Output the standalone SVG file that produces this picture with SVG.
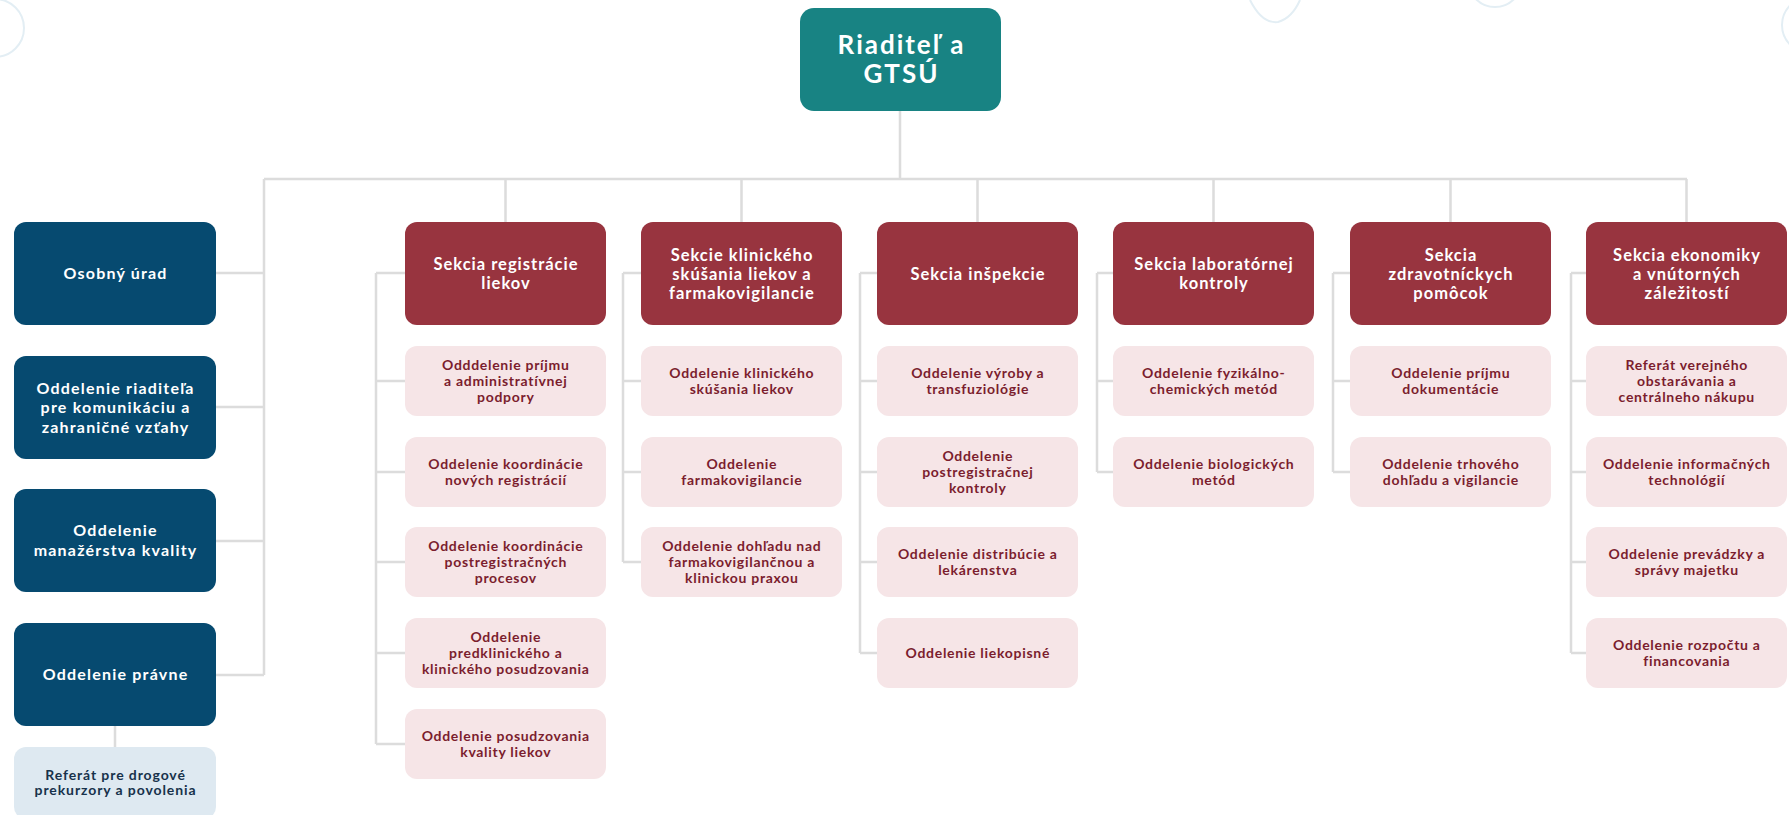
<svg xmlns="http://www.w3.org/2000/svg" width="1789" height="815" viewBox="0 0 1789 815">
<style>
text{font-family:Lato,"Noto Sans","Liberation Sans",sans-serif;font-weight:700;text-anchor:middle}
.top rect{fill:#188383}
.top text{fill:#fff;font-size:26px;letter-spacing:2px}
.staff rect{fill:#064A70}
.staff text{fill:#fff;font-size:16px;letter-spacing:1.2px}
.sec rect{fill:#98343F}
.sec text{fill:#fff;font-size:16.5px;letter-spacing:1px}
.sub rect{fill:#F6E5E7}
.sub text{fill:#7B1D2E;font-size:14px;letter-spacing:0.7px}
.ref rect{fill:#DEE9F1}
.ref text{fill:#17324B;font-size:14px;letter-spacing:0.9px}
.conn path{fill:none;stroke:#DCDCDC;stroke-width:2.5}
.deco{fill:none;stroke:#E3EEF4;stroke-width:2}
</style>
<rect width="1789" height="815" fill="#fff"/>
<g id="decor">
<circle class="deco" cx="-5" cy="28" r="29"/>
<path class="deco" d="M1250 0 Q1262 24 1278 22 Q1292 18 1300 0"/>
<circle class="deco" cx="1495" cy="-20" r="27"/>
<circle class="deco" cx="1810" cy="25" r="28"/>
</g>
<g class="conn" id="connectors">
<path d="M900 111V179M264 179H1687M264 179V675M216 273H264M216 407H264M216 541H264M216 675H264M115 726V747"/>
<path d="M505.5 179V222M741.5 179V222M977.5 179V222M1213.5 179V222M1450.5 179V222M1686.5 179V222"/>
<path d="M376 273V744M376 273H405M376 381H405M376 472H405M376 562H405M376 653H405M376 744H405"/>
<path d="M623 273V562M623 273H641M623 381H641M623 472H641M623 562H641"/>
<path d="M860 273V653M860 273H877M860 381H877M860 472H877M860 562H877M860 653H877"/>
<path d="M1097 273V472M1097 273H1113M1097 381H1113M1097 472H1113"/>
<path d="M1333 273V472M1333 273H1350M1333 381H1350M1333 472H1350"/>
<path d="M1571 273V653M1571 273H1586M1571 381H1586M1571 472H1586M1571 562H1586M1571 653H1586"/>
</g>
<g id="riaditel" class="top"><rect x="800" y="8" width="201" height="103" rx="14"/><text><tspan x="901.5" y="54">Riaditeľ a</tspan><tspan x="901.5" y="83">GTSÚ</tspan></text></g>
<g id="osobny" class="staff"><rect x="14" y="222" width="202" height="103" rx="12"/><text><tspan x="115.6" y="279.1">Osobný úrad</tspan></text></g>
<g id="komunikacia" class="staff"><rect x="14" y="356" width="202" height="103" rx="12"/><text><tspan x="115.6" y="393.6">Oddelenie riaditeľa</tspan><tspan x="115.6" y="413.1">pre komunikáciu a</tspan><tspan x="115.6" y="432.6">zahraničné vzťahy</tspan></text></g>
<g id="kvalita" class="staff"><rect x="14" y="489" width="202" height="103" rx="12"/><text><tspan x="115.6" y="536.4">Oddelenie</tspan><tspan x="115.6" y="555.9">manažérstva kvality</tspan></text></g>
<g id="pravne" class="staff"><rect x="14" y="623" width="202" height="103" rx="12"/><text><tspan x="115.6" y="680.1">Oddelenie právne</tspan></text></g>
<g id="prekurzory" class="ref"><rect x="14" y="747" width="202" height="72" rx="12"/><text><tspan x="115.5" y="779.5">Referát pre drogové</tspan><tspan x="115.5" y="794.5">prekurzory a povolenia</tspan></text></g>

<g id="s-registracie" class="sec"><rect x="405" y="222" width="201" height="103" rx="12"/><text><tspan x="506" y="270">Sekcia registrácie</tspan><tspan x="506" y="289">liekov</tspan></text></g>
<g id="r1" class="sub"><rect x="405" y="346" width="201" height="70" rx="12"/><text><tspan x="505.8" y="370">Odddelenie príjmu</tspan><tspan x="505.8" y="386">a administratívnej</tspan><tspan x="505.8" y="402">podpory</tspan></text></g>
<g id="r2" class="sub"><rect x="405" y="437" width="201" height="70" rx="12"/><text><tspan x="505.8" y="469">Oddelenie koordinácie</tspan><tspan x="505.8" y="485">nových registrácií</tspan></text></g>
<g id="r3" class="sub"><rect x="405" y="527" width="201" height="70" rx="12"/><text><tspan x="505.8" y="551">Oddelenie koordinácie</tspan><tspan x="505.8" y="567">postregistračných</tspan><tspan x="505.8" y="583">procesov</tspan></text></g>
<g id="r4" class="sub"><rect x="405" y="618" width="201" height="70" rx="12"/><text><tspan x="505.8" y="642">Oddelenie</tspan><tspan x="505.8" y="658">predklinického a</tspan><tspan x="505.8" y="674">klinického posudzovania</tspan></text></g>
<g id="r5" class="sub"><rect x="405" y="709" width="201" height="70" rx="12"/><text><tspan x="505.8" y="741">Oddelenie posudzovania</tspan><tspan x="505.8" y="757">kvality liekov</tspan></text></g>

<g id="s-klinickeho" class="sec"><rect x="641" y="222" width="201" height="103" rx="12"/><text><tspan x="742" y="260.5">Sekcie klinického</tspan><tspan x="742" y="279.5">skúšania liekov a</tspan><tspan x="742" y="298.5">farmakovigilancie</tspan></text></g>
<g id="k1" class="sub"><rect x="641" y="346" width="201" height="70" rx="12"/><text><tspan x="741.8" y="378">Oddelenie klinického</tspan><tspan x="741.8" y="394">skúšania liekov</tspan></text></g>
<g id="k2" class="sub"><rect x="641" y="437" width="201" height="70" rx="12"/><text><tspan x="741.8" y="469">Oddelenie</tspan><tspan x="741.8" y="485">farmakovigilancie</tspan></text></g>
<g id="k3" class="sub"><rect x="641" y="527" width="201" height="70" rx="12"/><text><tspan x="741.8" y="551">Oddelenie dohľadu nad</tspan><tspan x="741.8" y="567">farmakovigilančnou a</tspan><tspan x="741.8" y="583">klinickou praxou</tspan></text></g>

<g id="s-inspekcie" class="sec"><rect x="877" y="222" width="201" height="103" rx="12"/><text><tspan x="978" y="279.5">Sekcia inšpekcie</tspan></text></g>
<g id="i1" class="sub"><rect x="877" y="346" width="201" height="70" rx="12"/><text><tspan x="977.8" y="378">Oddelenie výroby a</tspan><tspan x="977.8" y="394">transfuziológie</tspan></text></g>
<g id="i2" class="sub"><rect x="877" y="437" width="201" height="70" rx="12"/><text><tspan x="977.8" y="461">Oddelenie</tspan><tspan x="977.8" y="477">postregistračnej</tspan><tspan x="977.8" y="493">kontroly</tspan></text></g>
<g id="i3" class="sub"><rect x="877" y="527" width="201" height="70" rx="12"/><text><tspan x="977.8" y="559">Oddelenie distribúcie a</tspan><tspan x="977.8" y="575">lekárenstva</tspan></text></g>
<g id="i4" class="sub"><rect x="877" y="618" width="201" height="70" rx="12"/><text><tspan x="977.8" y="658">Oddelenie liekopisné</tspan></text></g>

<g id="s-laboratornej" class="sec"><rect x="1113" y="222" width="201" height="103" rx="12"/><text><tspan x="1214" y="270">Sekcia laboratórnej</tspan><tspan x="1214" y="289">kontroly</tspan></text></g>
<g id="l1" class="sub"><rect x="1113" y="346" width="201" height="70" rx="12"/><text><tspan x="1213.8" y="378">Oddelenie fyzikálno-</tspan><tspan x="1213.8" y="394">chemických metód</tspan></text></g>
<g id="l2" class="sub"><rect x="1113" y="437" width="201" height="70" rx="12"/><text><tspan x="1213.8" y="469">Oddelenie biologických</tspan><tspan x="1213.8" y="485">metód</tspan></text></g>

<g id="s-zdravotnickych" class="sec"><rect x="1350" y="222" width="201" height="103" rx="12"/><text><tspan x="1451" y="260.5">Sekcia</tspan><tspan x="1451" y="279.5">zdravotníckych</tspan><tspan x="1451" y="298.5">pomôcok</tspan></text></g>
<g id="z1" class="sub"><rect x="1350" y="346" width="201" height="70" rx="12"/><text><tspan x="1450.8" y="378">Oddelenie príjmu</tspan><tspan x="1450.8" y="394">dokumentácie</tspan></text></g>
<g id="z2" class="sub"><rect x="1350" y="437" width="201" height="70" rx="12"/><text><tspan x="1450.8" y="469">Oddelenie trhového</tspan><tspan x="1450.8" y="485">dohľadu a vigilancie</tspan></text></g>

<g id="s-ekonomiky" class="sec"><rect x="1586" y="222" width="201" height="103" rx="12"/><text><tspan x="1687" y="260.5">Sekcia ekonomiky</tspan><tspan x="1687" y="279.5">a vnútorných</tspan><tspan x="1687" y="298.5">záležitostí</tspan></text></g>
<g id="e1" class="sub"><rect x="1586" y="346" width="201" height="70" rx="12"/><text><tspan x="1686.8" y="370">Referát verejného</tspan><tspan x="1686.8" y="386">obstarávania a</tspan><tspan x="1686.8" y="402">centrálneho nákupu</tspan></text></g>
<g id="e2" class="sub"><rect x="1586" y="437" width="201" height="70" rx="12"/><text><tspan x="1686.8" y="469">Oddelenie informačných</tspan><tspan x="1686.8" y="485">technológií</tspan></text></g>
<g id="e3" class="sub"><rect x="1586" y="527" width="201" height="70" rx="12"/><text><tspan x="1686.8" y="559">Oddelenie prevádzky a</tspan><tspan x="1686.8" y="575">správy majetku</tspan></text></g>
<g id="e4" class="sub"><rect x="1586" y="618" width="201" height="70" rx="12"/><text><tspan x="1686.8" y="650">Oddelenie rozpočtu a</tspan><tspan x="1686.8" y="666">financovania</tspan></text></g>
</svg>
